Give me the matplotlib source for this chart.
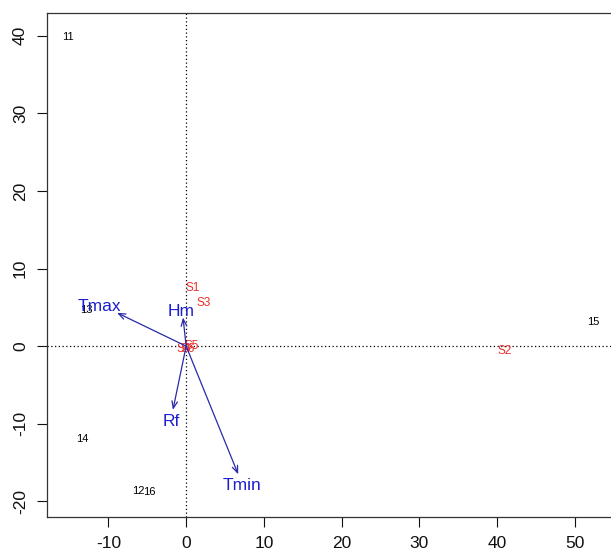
import numpy as np
import matplotlib.pyplot as plt

# ---------------- DATA ----------------
# observation scores (black numbers)
obs_labels = ["11", "12", "13", "14", "15", "16"]
obs_x = [-15.2, -6.1, -12.9, -13.4, 52.4, -4.8]
obs_y = [39.8, -18.6, 4.6, -11.9, 3.1, -18.8]

# site scores (red)
site_labels = ["S1", "S2", "S3", "S4", "S5", "S6"]
site_x = [0.9, 41.0, 2.3, -0.3, 0.7, 0.2]
site_y = [7.5, -0.6, 5.5, -0.3, 0.0, -0.3]

# variable loadings (blue arrows) and label positions
var_labels = ["Tmax", "Hm", "Rf", "Tmin"]
var_x = [-8.9, -0.4, -1.7, 6.7]
var_y = [4.3, 3.7, -8.2, -16.5]
var_lab_x = [-11.1, -0.6, -1.9, 7.2]
var_lab_y = [5.1, 4.5, -9.7, -18.0]

xticks = [-10, 0, 10, 20, 30, 40, 50]
yticks = [-20, -10, 0, 10, 20, 30, 40]
# ----------------------------------------

plt.rcParams['font.family'] = ['Liberation Sans', 'DejaVu Sans']
plt.rcParams['axes.unicode_minus'] = False

fig = plt.figure(figsize=(6.11, 5.58), dpi=100)
ax = fig.add_axes([0.0777, 0.0735, 0.925, 0.903])
ax.set_xlim(-17.85, 54.9)
ax.set_ylim(-22.0, 42.9)

ax.axhline(0, color='black', linestyle=(0, (1, 2)), lw=0.9)
ax.axvline(0, color='black', linestyle=(0, (1, 2)), lw=0.9)

for lab, x, y in zip(obs_labels, obs_x, obs_y):
    ax.text(x, y, lab, fontsize=8, color='black', ha='center', va='center')

for lab, x, y in zip(site_labels, site_x, site_y):
    ax.text(x, y, lab, fontsize=8.5, color='#e8302c', ha='center', va='center')

for lab, x, y, lx, ly in zip(var_labels, var_x, var_y, var_lab_x, var_lab_y):
    ax.annotate('', xy=(x, y), xytext=(0, 0),
                arrowprops=dict(arrowstyle='->,head_length=0.5,head_width=0.2',
                                color='#2a2aa8', lw=0.9, shrinkA=0, shrinkB=0))
    ax.text(lx, ly, lab, fontsize=12.5, color='#1e1ed2', ha='center', va='center')

ax.set_xticks(xticks)
ax.set_yticks(yticks)
ax.tick_params(direction='out', length=7, width=0.8, labelsize=12.5, pad=7, colors='#111111')
for t in ax.get_yticklabels():
    t.set_rotation(90)
    t.set_va('center')
for s in ax.spines.values():
    s.set_color('#333333')
    s.set_linewidth(0.9)

fig.savefig("out.png", dpi=100)
